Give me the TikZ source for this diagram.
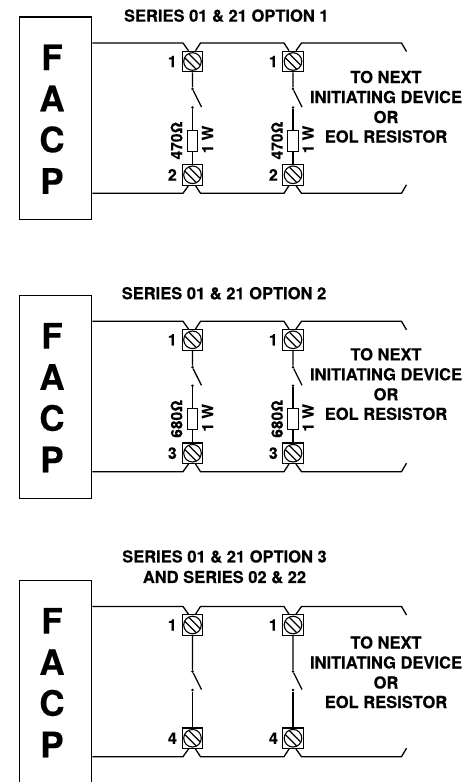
\documentclass[tikz,border=0pt]{standalone}
\usepackage{fontspec}
\setmainfont{TeX Gyre Heros}[BoldFont=* Bold,BoldFeatures={FakeBold=0.3}]
\usetikzlibrary{calc}
\tikzset{x=1bp,y=-1bp,
 wire/.style={line width=1.3bp,black},
 facpbox/.style={draw,line width=1.3bp,black,minimum width=72.5bp,minimum height=202.5bp,inner sep=0,anchor=north west},
 bigl/.style={font=\bfseries\fontsize{35bp}{35bp}\selectfont,inner sep=0},
 ttl/.style={font=\bfseries\fontsize{16.5bp}{20.5bp}\selectfont,inner sep=0,align=center},
 lab/.style={font=\bfseries\fontsize{16.5bp}{18bp}\selectfont,inner sep=0,align=center},
 num/.style={font=\bfseries\fontsize{16bp}{18bp}\selectfont,inner sep=0},
 rlab/.style={font=\bfseries\fontsize{15.5bp}{18bp}\selectfont,inner sep=0,rotate=90},
 dot/.style={circle,fill=black,inner sep=0,minimum size=2.8bp},
 res/.style={draw,line width=1bp,fill=white,minimum width=10.5bp,minimum height=21bp,inner sep=0},
 term/.style={draw,line width=1.1bp,fill=white,minimum size=20.5bp,inner sep=0,
  path picture={
   \draw[line width=1.1bp] (path picture bounding box.center) circle[radius=8.8bp];
   \draw[line width=1.2bp,shift={(path picture bounding box.center)}] (-7.4,-3.4)--(3.4,7.4) (-3.4,-7.4)--(7.4,3.4);
  }},
}
% #1 wire spacing, #2 bottom number, #3 FACP top offset, #4 label offset
\newcommand{\panelbase}[4]{%
 \node[facpbox] (facp) at (18.5,#3) {};
 \node[bigl] (lf) at (52,#3+40.8) {F};
 \node[bigl] (la) at (52,#3+82) {A};
 \node[bigl] (lc) at (52,#3+123) {C};
 \node[bigl] (lp) at (52,#3+164.5) {P};
 \node[term] (ta) at (192.5,18.5) {};
 \node[term] (tb) at (293,18.5) {};
 \node[term] (ba) at (192.5,#1-18.5) {};
 \node[term] (bb) at (293,#1-18.5) {};
 \node[num,anchor=east] (na) at (177,18.5) {1};
 \node[num,anchor=east] (nb) at (278,18.5) {1};
 \node[num,anchor=east] (nc) at (177,#1-18.5) {#2};
 \node[num,anchor=east] (nd) at (278,#1-18.5) {#2};
 \coordinate (ft) at (facp.east|-0,0);
 \coordinate (fb) at (facp.east|-0,#1);
 \coordinate (et) at (406.5,8.5);
 \coordinate (eb) at (406.5,#1-8.5);
 \draw[wire] (ft) -- (183,0) -- ($(ta.north)+(-4,0)$);
 \draw[wire] ($(ta.north)+(3,0)$) -- (200.5,0) -- (284,0) -- ($(tb.north)+(-4,0)$);
 \draw[wire] ($(tb.north)+(3,0)$) -- (301.5,0) -- (401.5,0) -- (et);
 \draw[wire] (fb) -- (183,#1) -- ($(ba.south)+(-4,0)$);
 \draw[wire] ($(ba.south)+(3,0)$) -- (200.5,#1) -- (284,#1) -- ($(bb.south)+(-4,0)$);
 \draw[wire] ($(bb.south)+(3,0)$) -- (301.5,#1) -- (401.5,#1) -- (eb);
 \node[lab] (l1) at (386,#4) {TO NEXT};
 \node[lab] (l2) at (386,#4+20) {INITIATING DEVICE};
 \node[lab] (l3) at (386,#4+40) {OR};
 \node[lab] (l4) at (386,#4+59.5) {EOL RESISTOR};
}
% #1 suffix, #2 top terminal, #3 bottom terminal, #4 switch y, #5 resistor y
\newcommand{\swres}[5]{%
 \node[dot] (u#1) at (#2.south|-0,#4) {};
 \node[dot] (v#1) at (#2.south|-0,#4+18.5) {};
 \coordinate (w#1) at ($(u#1)+(9,18)$);
 \draw[wire] (#2.south) -- (u#1) -- (w#1);
 \node[res] (r#1) at (#2.south|-0,#5) {};
 \draw[wire] (v#1) -- (r#1.north);
 \draw[wire] (r#1.south) -- (#3.north);
}
\newcommand{\swonly}[4]{%
 \node[dot] (u#1) at (#2.south|-0,#4) {};
 \node[dot] (v#1) at (#2.south|-0,#4+18.5) {};
 \coordinate (w#1) at ($(u#1)+(9,18)$);
 \draw[wire] (#2.south) -- (u#1) -- (w#1);
 \draw[wire] (v#1) -- (#3.north);
}
\begin{document}
\begin{tikzpicture}
\useasboundingbox (0,0) rectangle (464,782);
\begin{scope}[shift={(0,43)},name prefix=a-]
 \panelbase{150.3}{2}{-26.5}{34}
 \swres{x}{ta}{ba}{46}{97.5}
 \swres{y}{tb}{bb}{46}{97.5}
 \node[rlab] (o1) at (176.5,97.5) {470Ω};
 \node[rlab] (w1) at (207.5,96.5) {1 W};
 \node[rlab] (o2) at (277,97.5) {470Ω};
 \node[rlab] (w2) at (308,96.5) {1 W};
 \node[ttl] (t) at (226.3,-27.3) {SERIES 01 \& 21 OPTION 1};
\end{scope}
\begin{scope}[shift={(0,321.3)},name prefix=b-]
 \panelbase{150.4}{3}{-26.3}{33}
 \swres{x}{ta}{ba}{46}{97.5}
 \swres{y}{tb}{bb}{46}{97.5}
 \node[rlab] (o1) at (176.5,97.5) {680Ω};
 \node[rlab] (w1) at (207.5,96.5) {1 W};
 \node[rlab] (o2) at (277,97.5) {680Ω};
 \node[rlab] (w2) at (308,96.5) {1 W};
 \node[ttl] (t) at (224,-28) {SERIES 01 \& 21 OPTION 2};
\end{scope}
\begin{scope}[shift={(0,606.5)},name prefix=c-]
 \panelbase{150.2}{4}{-26.5}{36}
 \swonly{x}{ta}{ba}{65}
 \swonly{y}{tb}{bb}{65}
 \node[ttl] (t) at (224.5,-39.7) {SERIES 01 \& 21 OPTION 3\\AND SERIES 02 \& 22};
\end{scope}
\end{tikzpicture}
\end{document}
